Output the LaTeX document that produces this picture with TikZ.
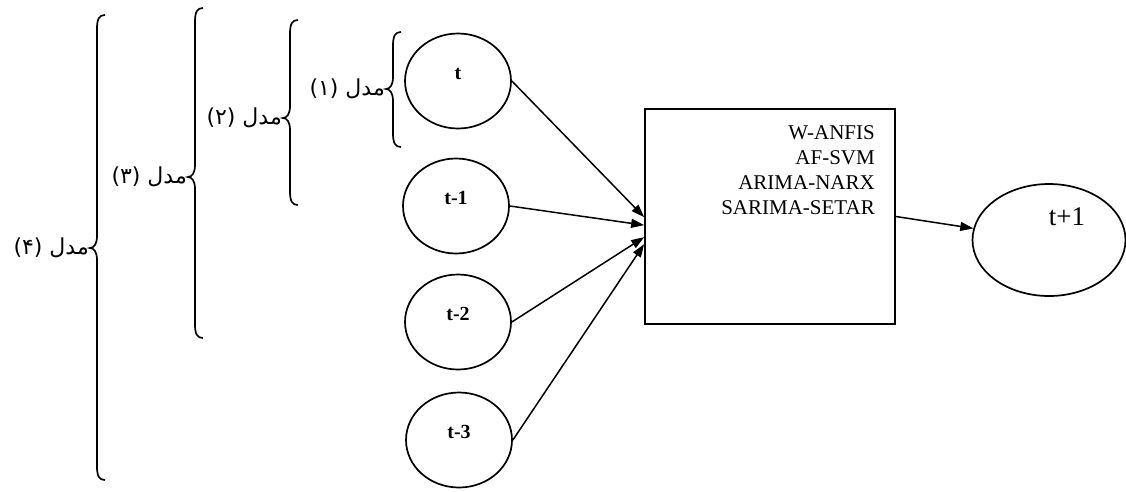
\documentclass[tikz,border=0pt]{standalone}
\usepackage{fontspec}
\setmainfont{Liberation Serif}
\newfontfamily\arabicfont[Script=Arabic]{DejaVu Sans}
\TeXXeTstate=1
\usetikzlibrary{arrows.meta,shapes.geometric,calc}
\newcommand\mybrace[5]{% name, x, top, tip, bottom
  \draw[brc] ({#2+8},#3) .. controls ({#2+2},#3) and (#2,{#3+4}) .. (#2,{#3+14})
    -- (#2,{#4-12}) .. controls (#2,{#4-4}) and ({#2-3},#4) .. ({#2-7},#4) coordinate (#1)
    .. controls ({#2-3},#4) and (#2,{#4+4}) .. (#2,{#4+12})
    -- (#2,{#5-14}) .. controls (#2,{#5-4}) and ({#2+2},#5) .. ({#2+8},#5);}
\begin{document}
\begin{tikzpicture}[x=1pt,y=-1pt,
  inp/.style={draw,ellipse,line width=1.7pt,minimum width=106pt,minimum height=95pt,inner sep=0pt,
    font=\bfseries\fontsize{20}{24}\selectfont,text height=14pt,text depth=17pt},
  arr/.style={line width=1.5pt,-{Triangle[length=13pt,width=9pt]}},
  brc/.style={line width=1.7pt},
  mlab/.style={anchor=east,inner sep=1pt,font=\arabicfont\fontsize{22}{26}\selectfont},
]
\useasboundingbox (0,0) rectangle (1126,491);
% input nodes
\node[inp] (t) at (458,81) {t};
\node[inp] (t1) at (456,206) {t-1};
\node[inp] (t2) at (458,322) {t-2};
\node[inp] (t3) at (459,440) {t-3};
% model box
\node[draw,line width=1.7pt,minimum width=250pt,minimum height=215pt,inner sep=0pt] (box) at (770,216.5) {};
\node[anchor=north east,align=right,inner sep=0pt,font=\fontsize{21}{25}\selectfont] (models) at (875,125)
  {W-ANFIS\\AF-SVM\\ARIMA-NARX\\SARIMA-SETAR};
% output
\node[draw,ellipse,line width=1.7pt,minimum width=153pt,minimum height=112pt,inner sep=0pt,
  label={[font=\fontsize{27}{30}\selectfont,xshift=18pt,yshift=23pt]center:t+1}] (out) at (1049,240) {};
% arrow ends on the box
\coordinate (a1) at ($(box.north west)+(0,109)$);
\coordinate (a2) at ($(box.north west)+(0,117)$);
\coordinate (a3) at ($(box.north west)+(0,129)$);
\coordinate (a4) at ($(box.north west)+(0,136)$);
\draw[arr] (t.east) -- (a1);
\draw[arr] (t1.east) -- (a2);
\draw[arr] (t2.east) -- (a3);
\draw[arr] (t3.east) -- (a4);
\draw[arr] (box.east) -- (out);
% braces
\mybrace{b1}{393}{32}{89}{147}
\mybrace{b2}{290}{20}{118}{205}
\mybrace{b3}{195}{8}{177}{338}
\mybrace{b4}{97}{15}{248}{480}
\node[mlab] (m1) at (b1) {\arabicfont\beginR مدل (۱)\endR};
\node[mlab] (m2) at (b2) {\arabicfont\beginR مدل (۲)\endR};
\node[mlab] (m3) at (b3) {\arabicfont\beginR مدل (۳)\endR};
\node[mlab] (m4) at (b4) {\arabicfont\beginR مدل (۴)\endR};
\end{tikzpicture}
\end{document}
